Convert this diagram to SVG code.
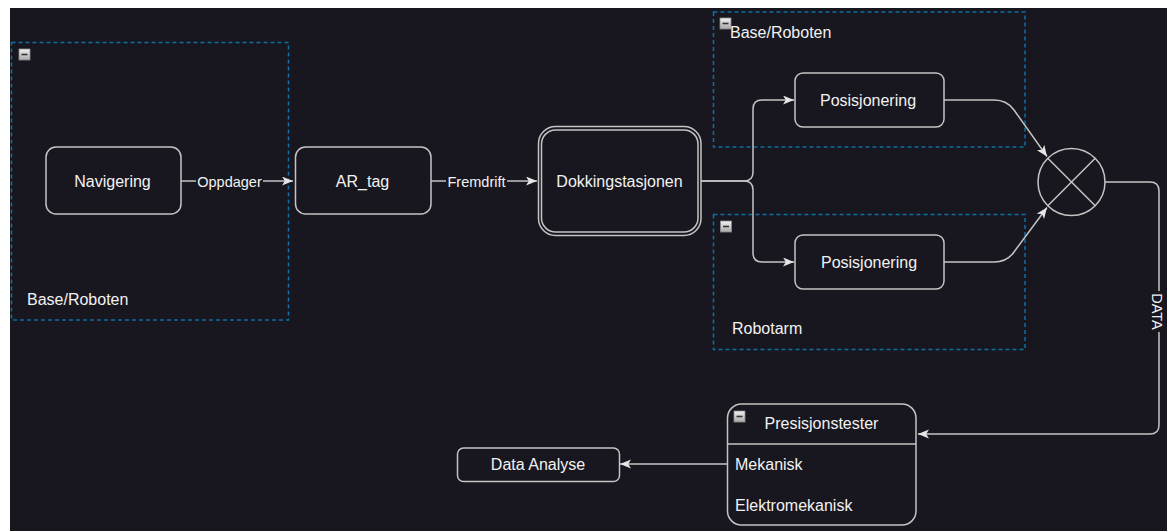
<svg xmlns="http://www.w3.org/2000/svg" width="1167" height="531" viewBox="0 0 1167 531">
<style>
  .bg{fill:#18171f}
  .box{fill:#18171f;stroke:#c4c4c4;stroke-width:1.5}
  .cont{fill:none;stroke:#0d6ea8;stroke-width:1.5;stroke-dasharray:4 3}
  .t{font-family:"Liberation Sans",Arial,sans-serif;font-size:16px;fill:#f2f2f2}
  .c{text-anchor:middle}
  .el{font-family:"Liberation Sans",Arial,sans-serif;font-size:14.5px;fill:#f2f2f2;text-anchor:middle}
  .lbg{fill:#18171f}
  .edge{fill:none;stroke:#c4c4c4;stroke-width:1.5}
  .icon{fill:url(#ig);stroke:#8a8a8a;stroke-width:0.8}
  .minus{stroke:#333;stroke-width:1.6}
</style>
<defs>
  <marker id="arr" markerUnits="userSpaceOnUse" markerWidth="13" markerHeight="11" refX="11" refY="4.5" orient="auto" viewBox="0 0 13 11">
    <path d="M0,0 L11,4.5 L0,9 L2.8,4.5 Z" fill="#e6e6e6"/>
  </marker>
  <linearGradient id="ig" x1="0" y1="0" x2="0" y2="1">
    <stop offset="0" stop-color="#f2f2f2"/>
    <stop offset="1" stop-color="#a8a8a8"/>
  </linearGradient>
</defs>
<rect x="0" y="0" width="1167" height="531" fill="#ffffff"/>
<rect class="bg" x="10" y="8" width="1157" height="523"/>

<g id="container-left">
  <rect class="cont" x="11.5" y="42.5" width="277" height="277.5"/>
  <rect class="icon" x="19" y="49" width="11" height="11"/>
  <line class="minus" x1="21.5" y1="54.5" x2="27.5" y2="54.5"/>
  <text class="t" x="27" y="305">Base/Roboten</text>
</g>
<g id="container-top-right">
  <rect class="cont" x="713.5" y="12" width="311.5" height="135"/>
  <rect class="icon" x="720" y="18" width="11" height="11"/>
  <line class="minus" x1="722.5" y1="23.5" x2="728.5" y2="23.5"/>
  <text class="t" x="730" y="37.5">Base/Roboten</text>
</g>
<g id="container-bottom-right">
  <rect class="cont" x="713.5" y="214.5" width="311.5" height="135"/>
  <rect class="icon" x="720.5" y="221" width="11" height="11"/>
  <line class="minus" x1="723" y1="226.5" x2="729" y2="226.5"/>
  <text class="t" x="732" y="334">Robotarm</text>
</g>

<g id="connectors">
  <path class="edge" d="M181,181 L293,181" marker-end="url(#arr)"/>
  <path class="edge" d="M431,181 L537,181" marker-end="url(#arr)"/>
  <path class="edge" d="M701,181 L744,181 Q753,181 753,172 L753,109 Q753,100 762,100 L794,100" marker-end="url(#arr)"/>
  <path class="edge" d="M701,181 L744,181 Q753,181 753,190 L753,253 Q753,262 762,262 L794,262" marker-end="url(#arr)"/>
  <path class="edge" d="M944,100 L994,100 Q1007,100 1014,110 L1047,156.5" marker-end="url(#arr)"/>
  <path class="edge" d="M944,262 L994,262 Q1007,262 1014,252 L1047,207.5" marker-end="url(#arr)"/>
  <path class="edge" d="M1105,182 L1150,182 Q1159,182 1159,191 L1159,425 Q1159,434 1150,434 L918,434" marker-end="url(#arr)"/>
  <path class="edge" d="M727,464 L620,464" marker-end="url(#arr)"/>
  <rect class="lbg" x="196" y="173" width="67" height="17"/>
  <text class="el" x="229.5" y="187">Oppdager</text>
  <rect class="lbg" x="446" y="173" width="61" height="17"/>
  <text class="el" x="476.5" y="187">Fremdrift</text>
  <rect class="lbg" x="1150" y="291" width="17" height="41"/>
  <text class="el" transform="translate(1157,311.5) rotate(90)" x="0" y="5">DATA</text>
</g>

<g id="navigering">
  <rect class="box" x="46" y="147" width="135" height="67" rx="10"/>
  <text class="t c" x="112.5" y="186.5">Navigering</text>
</g>
<g id="ar-tag">
  <rect class="box" x="295.5" y="147" width="135.5" height="67" rx="10"/>
  <text class="t c" x="362.5" y="186.5">AR_tag</text>
</g>
<g id="dokkingstasjonen">
  <rect class="box" x="538.5" y="126.5" width="162.5" height="109" rx="17"/>
  <rect class="box" x="541.5" y="130" width="156.5" height="102" rx="14"/>
  <text class="t c" x="619.5" y="186.5">Dokkingstasjonen</text>
</g>
<g id="posisjonering-1">
  <rect class="box" x="795" y="73" width="149" height="54" rx="8"/>
  <text class="t c" x="868" y="105.5">Posisjonering</text>
</g>
<g id="posisjonering-2">
  <rect class="box" x="795" y="235" width="149" height="54" rx="8"/>
  <text class="t c" x="869" y="267.5">Posisjonering</text>
</g>
<g id="sum-junction">
  <circle cx="1071.5" cy="182" r="33.5" fill="#18171f" stroke="#c4c4c4" stroke-width="1.5"/>
  <line x1="1047.8" y1="158.3" x2="1095.2" y2="205.7" stroke="#c4c4c4" stroke-width="1.5"/>
  <line x1="1095.2" y1="158.3" x2="1047.8" y2="205.7" stroke="#c4c4c4" stroke-width="1.5"/>
</g>
<g id="presisjonstester">
  <rect class="box" x="727.5" y="404" width="188.5" height="121" rx="14"/>
  <line x1="727.5" y1="444" x2="916" y2="444" stroke="#c4c4c4" stroke-width="1.5"/>
  <rect class="icon" x="734" y="411" width="11" height="11"/>
  <line class="minus" x1="736.5" y1="416.5" x2="742.5" y2="416.5"/>
  <text class="t c" x="821.5" y="429">Presisjonstester</text>
  <text class="t" x="735" y="469.5">Mekanisk</text>
  <text class="t" x="735" y="510.5">Elektromekanisk</text>
</g>
<g id="data-analyse">
  <rect class="box" x="457.5" y="448" width="162" height="33.5" rx="6"/>
  <text class="t c" x="538" y="469.5">Data Analyse</text>
</g>
</svg>
